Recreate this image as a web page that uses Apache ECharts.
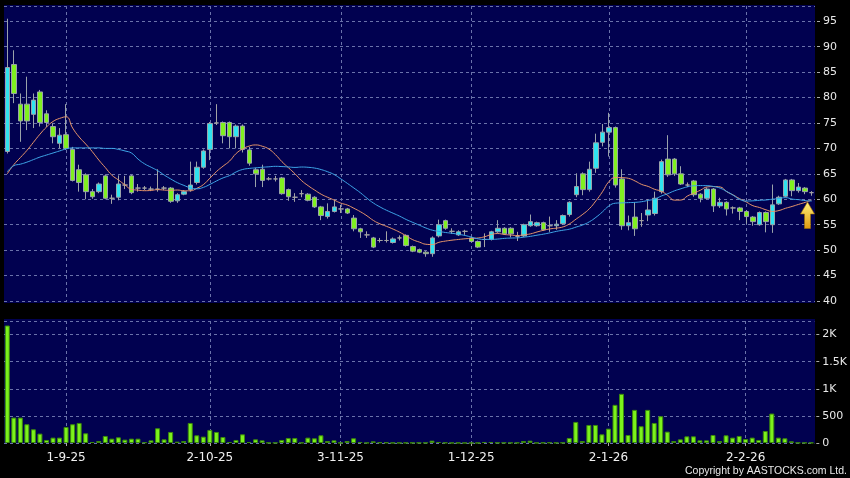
<!DOCTYPE html>
<html>
<head>
<meta charset="utf-8">
<script src="https://cdn.jsdelivr.net/npm/echarts@6/dist/echarts.min.js"></script>
<style>
html,body{margin:0;padding:0;background:#000;}
#chart{width:850px;height:478px;}
</style>
</head>
<body>
<div id="chart"></div>
<script>
// daily prices
var openPx = [69.4,86.5,78.7,78.7,76.7,81.1,76.8,74.3,71.0,72.7,
  69.8,65.8,64.8,61.5,61.5,64.6,60.2,60.4,62.8,64.6,
  62.2,62.2,62.0,62.0,62.2,62.2,59.7,61.0,61.9,63.3,
  66.3,69.8,75.0,75.1,75.1,72.3,74.4,69.7,65.8,65.9,
  64.0,64.0,64.2,61.9,60.4,61.1,61.0,60.4,58.5,56.6,
  57.6,58.1,58.1,56.3,54.2,53.0,52.4,51.9,51.9,51.5,
  52.4,52.9,50.7,50.1,49.6,49.3,52.8,55.8,53.7,53.0,
  53.7,52.4,51.7,52.1,52.1,53.6,54.3,54.3,52.7,52.8,
  54.8,54.8,55.4,54.8,54.8,55.2,57.0,60.9,65.0,61.9,
  66.1,71.2,73.2,74.1,64.0,54.8,56.5,55.8,56.9,57.2,
  61.5,67.9,67.9,65.0,62.8,63.6,61.0,60.2,62.0,58.7,
  59.4,58.3,58.3,57.6,56.5,55.0,57.4,55.0,59.1,60.6,
  63.8,61.7,62.2,61.3];
var closePx = [85.9,80.8,75.4,75.4,79.5,75.1,75.1,72.3,72.6,70.0,
  63.7,63.3,61.5,60.5,63.0,60.2,60.2,63.0,62.8,61.3,
  62.2,62.2,62.0,62.0,62.2,59.6,60.9,61.5,62.8,66.3,
  69.5,74.9,75.0,72.5,72.3,74.4,69.8,67.1,65.0,63.7,
  64.0,64.0,61.1,60.5,60.4,61.1,59.8,58.5,56.8,57.6,
  58.5,58.1,57.3,54.2,53.6,53.0,50.6,51.9,51.9,52.2,
  52.4,50.9,49.8,49.6,49.3,52.4,55.0,54.3,53.7,53.6,
  53.7,51.7,50.6,52.1,53.6,54.3,53.2,53.2,52.7,55.0,
  55.6,55.4,54.0,54.8,55.1,56.8,59.4,62.5,61.9,65.9,
  71.1,73.2,74.1,62.8,54.8,55.4,54.2,55.8,57.9,60.2,
  67.4,64.8,65.0,63.0,62.8,60.9,60.2,62.0,58.7,59.4,
  58.1,58.3,57.6,56.6,55.6,57.4,55.6,58.9,60.4,63.8,
  61.7,62.4,61.5,61.3];
var lowPx = [69.0,78.9,71.3,73.6,74.0,74.3,74.2,71.0,70.0,69.7,
  63.5,61.5,60.0,60.1,61.2,60.0,59.1,59.8,62.0,61.0,
  61.5,61.8,61.6,61.5,61.8,59.3,59.3,60.8,61.5,62.9,
  66.0,67.7,74.6,71.0,70.0,70.0,69.2,66.6,62.4,62.4,
  63.7,63.5,60.9,59.7,59.5,60.4,59.6,58.3,55.9,56.2,
  57.4,57.3,57.1,53.7,52.4,52.4,50.4,51.5,51.5,51.3,
  51.9,50.7,49.6,49.4,48.7,48.7,52.5,54.0,53.2,52.8,
  53.0,51.5,50.4,50.6,51.9,53.4,53.0,52.5,51.8,52.6,
  54.6,54.6,53.8,53.6,54.0,55.0,56.6,60.4,60.8,61.5,
  65.2,70.4,68.4,62.3,54.0,53.9,52.8,54.6,55.7,56.8,
  61.1,64.4,64.6,62.8,62.4,60.5,59.4,60.0,57.5,58.3,
  56.8,57.2,55.9,55.2,54.8,54.8,53.5,53.4,58.9,60.4,
  60.6,61.3,61.0,60.7];
var highPx = [95.5,89.3,80.8,84.1,80.8,81.5,77.5,74.9,74.0,78.7,
  70.3,66.8,65.1,62.0,63.3,64.9,60.9,64.7,64.6,64.8,
  63.0,62.6,62.5,65.9,62.6,62.4,61.2,61.8,67.4,67.4,
  69.8,75.2,78.7,75.3,75.3,74.7,74.7,70.3,66.2,66.8,
  64.4,64.6,64.4,62.1,61.2,61.8,61.2,60.6,58.7,59.2,
  59.9,58.9,58.3,56.9,54.4,53.7,52.6,52.4,53.7,52.5,
  52.9,53.1,50.9,50.3,49.8,52.7,56.0,56.0,54.3,53.9,
  54.0,52.6,51.9,53.3,53.8,55.9,54.5,54.5,53.6,55.2,
  57.0,55.6,55.6,56.6,55.9,57.0,59.6,65.1,65.3,67.4,
  72.9,74.8,77.0,74.3,65.9,56.8,59.4,57.3,60.0,61.5,
  67.8,72.6,68.1,66.5,63.3,63.8,61.2,62.3,62.2,60.3,
  59.6,58.6,58.5,57.8,56.7,57.6,57.6,62.9,60.7,64.0,
  64.0,63.2,62.4,61.6];
var volume = [2167,469,469,346,253,173,56,99,99,296,
  346,370,179,19,37,130,80,105,62,80,
  80,12,49,272,68,204,25,37,370,142,
  117,241,204,111,19,56,160,19,68,49,
  5,5,56,93,93,5,99,87,142,37,
  49,5,37,87,19,3,31,12,10,3,
  3,5,5,5,5,43,19,6,2,3,
  2,2,2,19,19,6,6,5,5,37,
  43,3,6,10,5,6,93,389,37,333,
  333,160,265,704,907,148,611,309,611,370,
  494,210,37,68,123,123,49,49,148,37,
  142,99,130,74,99,56,222,543,99,87,
  31,5,5,5];
// moving averages at the left edge need days before the window
var ma10Lead = [65.0,66.8,68.2,69.6,71.2,72.8,74.2,75.3,75.9];
var ma20Lead = [65.4,66.6,66.9,67.3,67.8,68.3,68.7,69.1,69.5,69.9,
  70.1,70.1,70.1,70.1,70.1,70.0,70.0,69.8,69.5];

var firstDay = '2025-08-19';
var holidays = ['2025-10-01','2025-10-07','2025-10-29','2025-12-25','2025-12-26','2026-01-01'];
var labelDates = ['1-9-25','2-10-25','3-11-25','1-12-25','2-1-26','2-2-26'];

function tradingDays(start, count) {
  var out = [];
  var d = new Date(start + 'T00:00:00Z');
  while (out.length < count) {
    var iso = d.toISOString().slice(0, 10);
    var wd = d.getUTCDay();
    if (wd !== 0 && wd !== 6 && holidays.indexOf(iso) < 0) {
      out.push(d.getUTCDate() + '-' + (d.getUTCMonth() + 1) + '-' + String(d.getUTCFullYear()).slice(2));
    }
    d.setUTCDate(d.getUTCDate() + 1);
  }
  return out;
}

function movingAvg(n, lead) {
  return closePx.map(function (c, i) {
    if (i < n - 1) return lead[i];
    var s = 0;
    for (var k = i - n + 1; k <= i; k++) s += closePx[k];
    return +(s / n).toFixed(3);
  });
}

var dates = tradingDays(firstDay, closePx.length);
var candles = closePx.map(function (c, i) {
  return [openPx[i], c, lowPx[i], highPx[i]];
});
function isLabelDay(i) { return labelDates.indexOf(dates[i]) >= 0; }

var navy = '#010150';
var dashed = { color: '#6a72aa', width: 1, type: [3, 3] };
var font = 'DejaVu Sans';

var chart = echarts.init(document.getElementById('chart'));
chart.setOption({
  backgroundColor: '#000',
  animation: false,
  textStyle: { fontFamily: font },
  title: {
    text: 'Copyright by AASTOCKS.com Ltd.',
    right: 3, bottom: 1, padding: 0,
    textStyle: { color: '#e8e8e8', fontSize: 10.5, fontWeight: 'normal', fontFamily: 'Liberation Sans' }
  },
  graphic: [
    { type: 'rect', z: -10, silent: true, shape: { x: 4, y: 5, width: 811, height: 298 }, style: { fill: navy } },
    { type: 'rect', z: -10, silent: true, shape: { x: 4, y: 319, width: 811, height: 124 }, style: { fill: navy } },
    {
      type: 'polygon', z: 100, silent: true,
      shape: { points: [[807.5, 202], [814.5, 214], [810.5, 214], [810.5, 228.5], [804.5, 228.5], [804.5, 214], [800.5, 214]] },
      style: {
        stroke: '#a07000', lineWidth: 0.6,
        fill: new echarts.graphic.LinearGradient(0, 0, 0, 1, [
          { offset: 0, color: '#fff27a' }, { offset: 1, color: '#e09a10' }
        ])
      }
    }
  ],
  grid: [
    { left: 4, right: 35, top: 6, height: 295 },
    { left: 4, right: 35, top: 321, bottom: 35 }
  ],
  xAxis: [
    {
      type: 'category', gridIndex: 0, data: dates, boundaryGap: true,
      axisLine: { show: false }, axisTick: { show: false }, axisLabel: { show: false },
      splitLine: { show: true, alignWithLabel: true, interval: function (i) { return isLabelDay(i); }, lineStyle: dashed }
    },
    {
      type: 'category', gridIndex: 1, data: dates, boundaryGap: true, offset: 4,
      axisLine: { show: false },
      axisTick: { show: true, alignWithLabel: true, length: 3, interval: function (i) { return isLabelDay(i); },
        lineStyle: { color: '#aaaaaa' } },
      axisLabel: { show: true, interval: function (i) { return isLabelDay(i); }, color: '#f0f0f0', fontSize: 12, margin: 5 },
      splitLine: { show: true, alignWithLabel: true, interval: function (i) { return isLabelDay(i); }, lineStyle: dashed }
    }
  ],
  yAxis: [
    {
      type: 'value', gridIndex: 0, position: 'right', min: 40, max: 98, interval: 5, offset: 2,
      axisLine: { show: false },
      axisTick: { show: true, length: 3, lineStyle: { color: '#aaaaaa' } },
      axisLabel: { color: '#e8e8e8', fontSize: 11, margin: 6, showMaxLabel: false },
      splitLine: { show: true, lineStyle: dashed }
    },
    {
      type: 'value', gridIndex: 1, position: 'right', min: 0, max: 2250, interval: 500, offset: 2,
      axisLine: { show: false },
      axisTick: { show: true, length: 3, lineStyle: { color: '#aaaaaa' } },
      axisLabel: {
        color: '#e8e8e8', fontSize: 11, margin: 6, showMaxLabel: false,
        formatter: function (v) {
          if (v % 500 !== 0) return '';
          return v >= 1000 ? (v / 1000) + 'K' : String(v);
        }
      },
      splitLine: { show: true, lineStyle: dashed }
    }
  ],
  series: [
    {
      name: 'Price', type: 'candlestick', xAxisIndex: 0, yAxisIndex: 0,
      data: candles, barWidth: 5,
      itemStyle: {
        color: '#2fe3f0', color0: '#80f020',
        borderColor: '#9aa3aa', borderColor0: '#9aa3aa', borderColorDoji: '#a4a4a4',
        borderWidth: 1
      }
    },
    {
      name: 'MA10', type: 'line', xAxisIndex: 0, yAxisIndex: 0,
      data: movingAvg(10, ma10Lead), showSymbol: false, smooth: true,
      lineStyle: { color: '#e8956a', width: 1 }
    },
    {
      name: 'MA20', type: 'line', xAxisIndex: 0, yAxisIndex: 0,
      data: movingAvg(20, ma20Lead), showSymbol: false, smooth: true,
      lineStyle: { color: '#3ea6e8', width: 1 }
    },
    {
      name: 'Volume', type: 'bar', xAxisIndex: 1, yAxisIndex: 1,
      data: volume, barWidth: 5,
      itemStyle: { color: '#7cf21c', borderColor: '#3c8a0c', borderWidth: 1 }
    }
  ]
});
</script>
</body>
</html>
